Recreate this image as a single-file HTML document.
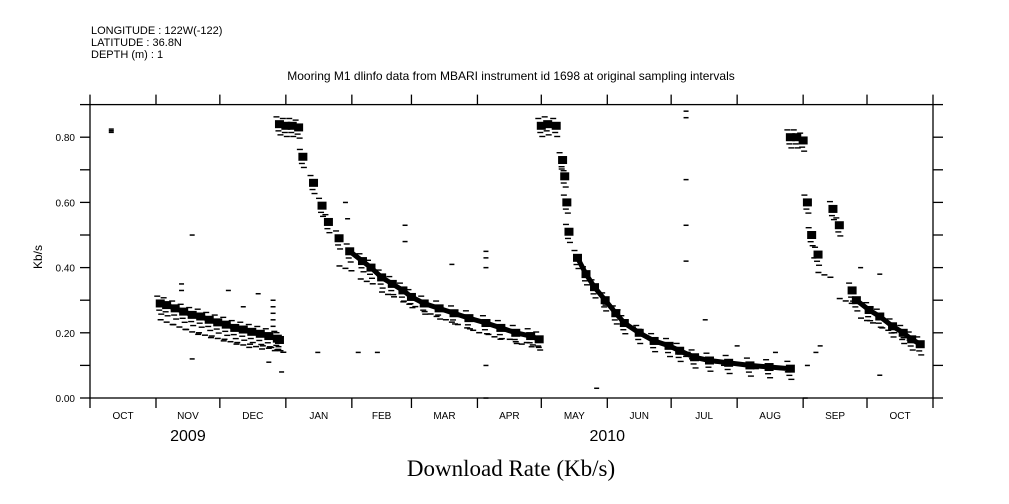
<!DOCTYPE html>
<html><head><meta charset="utf-8"><style>
body{margin:0;background:#fff;}
svg{display:block;font-family:"Liberation Sans",sans-serif;}
</style></head><body>
<svg id="chart" width="1009" height="504" viewBox="0 0 1009 504">
<g font-size="11" fill="#000">
<text x="91" y="34">LONGITUDE : 122W(-122)</text>
<text x="91" y="46">LATITUDE : 36.8N</text>
<text x="91" y="58">DEPTH (m) : 1</text>
</g>
<text x="511" y="80" font-size="12" text-anchor="middle">Mooring M1 dlinfo data from MBARI instrument id 1698 at original sampling intervals</text>
<text x="511" y="476" font-size="23" text-anchor="middle" font-family="Liberation Serif,serif">Download Rate (Kb/s)</text>
<text transform="translate(42,257) rotate(-90)" font-size="12" text-anchor="middle">Kb/s</text>
<g id="axes"></g>
<g id="marks"></g>
</svg>
<script>
const monthLabels=["OCT","NOV","DEC","JAN","FEB","MAR","APR","MAY","JUN","JUL","AUG","SEP","OCT"];
const monthStarts=[0,31,61,92,123,151,182,212,243,273,304,335,365,396];
const yTicks=[0,0.1,0.2,0.3,0.4,0.5,0.6,0.7,0.8,0.9];
const yearLabels=[["2009",46],["2010",243]];
const trendDays=[33,36,40,44,48,52,56,60,64,68,72,76,80,84,88,89, 89,92,95,98,100,105,109,112,117,122,128,132,137,142,147,151,157,164,171,178,186,193,200,207,211, 212,215,219,222,223,224,225,229,233,237,242,247,251,258,265,272,277,284,291,300,310,319,329, 329,332,335,337,339,342,349,352,358,360,366,371,377,382,386,390];
const trendVals=[.29,.285,.275,.265,.255,.25,.24,.232,.225,.215,.21,.203,.197,.19,.182,.178, .84,.835,.835,.83,.74,.66,.59,.54,.49,.45,.42,.40,.37,.35,.33,.31,.29,.275,.26,.245,.23,.215,.20,.19,.18, .835,.84,.835,.73,.68,.60,.51,.43,.38,.34,.30,.26,.23,.20,.175,.16,.145,.125,.115,.108,.10,.095,.09, .80,.80,.79,.60,.50,.44,.58,.53,.33,.30,.27,.25,.22,.20,.18,.165];
const bandRanges=[[0,16],[25,41],[48,64],[73,80]];
const lowDays=[36,42,48,54,60,66,72,78,84,88,120,130,140,150,160,170,180,190,200,208,245,255,265,280,295,310,325,345,355,365,375,385];
const lowVals=[.235,.22,.205,.195,.185,.175,.165,.16,.155,.15,.40,.36,.32,.29,.26,.235,.21,.19,.175,.165,.28,.22,.18,.13,.11,.10,.09,.38,.30,.24,.21,.18];
const outDays=[10,10,10,43,43,48,48,65,72,79,84,86,86,86,86,86,90,107,120,121,126,135,148,148,170,170,186,186,186,186,186,238,280,280,280,280,280,281,289,304,322,336,337,340,341,343,362,371,371];
const outVals=[.82,.815,.825,.35,.33,.5,.12,.33,.28,.32,.11,.30,.28,.26,.24,.22,.08,.14,.60,.55,.14,.14,.48,.53,.41,.26,.45,.43,.40,.10,.0,.03,.88,.86,.67,.53,.42,.14,.24,.16,.14,.0,.10,.43,.14,.16,.40,.38,.07];
const X0=90,X1=933,Y0=398,YT=104.6;
const xs=d=>X0+d*(X1-X0)/396;
const ys=v=>Y0-v*(Y0-YT)/0.9;
const NS="http://www.w3.org/2000/svg";
function mk(t,a,p){const e=document.createElementNS(NS,t);for(const k in a)e.setAttribute(k,a[k]);p.appendChild(e);return e;}
const ax=document.getElementById('axes'),mg=document.getElementById('marks');
const frame=mk('rect',{x:X0,y:YT,width:X1-X0,height:Y0-YT,fill:'none',stroke:'#000','stroke-width':1.3},ax);


monthStarts.forEach(d=>{const x=xs(d);
 const t=mk('line',{x1:x,x2:x,y1:Y0,y2:Y0+10,stroke:'#000','stroke-width':1.3},ax);
 
 
 const t2=mk('line',{x1:x,x2:x,y1:YT-10,y2:YT,stroke:'#000','stroke-width':1.3},ax);
 
 });
monthLabels.forEach((m,i)=>{const x=(xs(monthStarts[i])+xs(monthStarts[i+1]))/2;
 const t=mk('text',{x:x,y:419,'font-size':10,'text-anchor':'middle'},ax);t.textContent=m;
 
 });
yearLabels.forEach(([y,d])=>{const t=mk('text',{x:xs(d),y:441,'font-size':16,'text-anchor':'middle'},ax);t.textContent=y;
 
 });
yTicks.forEach((v,i)=>{const y=ys(v);
 const t=mk('line',{x1:X0-10,x2:X0,y1:y,y2:y,stroke:'#000','stroke-width':1.3},ax);
 
 
 const t2=mk('line',{x1:X1,x2:X1+10,y1:y,y2:y,stroke:'#000','stroke-width':1.3},ax);
 
 
 if(i%2===0&&v<0.85){const l=mk('text',{x:75,y:y+4,'font-size':10,'text-anchor':'end'},ax);l.textContent=v.toFixed(2);
 
 }});
bandRanges.forEach(([a,b])=>{
 const pts=[];for(let i=a;i<b;i++)pts.push(xs(trendDays[i]).toFixed(1)+','+ys(trendVals[i]).toFixed(1));
 const pl=mk('polyline',{points:pts.join(' '),fill:'none',stroke:'#000','stroke-width':5,'stroke-linejoin':'round'},mg);
 
 
});
trendDays.forEach((d,i)=>{const x=xs(d),y=ys(trendVals[i]);
 const r=mk('rect',{x:x-4.5,y:y-4,width:9,height:8,fill:'#000'},mg);
 
 
 [-8,6,10].forEach((o,j)=>{const dd=mk('rect',{x:x-4+j*2-2,y:y+o,width:6,height:1.4,fill:'#000'},mg);
  
  });});
lowDays.forEach((d,i)=>{const x=xs(d),y=ys(lowVals[i]);
 [-6,0,6].forEach(o=>{const r=mk('rect',{x:x+o-3,y:y+o*0.4,width:6,height:1.5,fill:'#000'},mg);
 
 });});
outDays.forEach((d,i)=>{const r=mk('rect',{x:xs(d)-2.5,y:ys(outVals[i])-0.7,width:5,height:1.5,fill:'#000'},mg);
 
 });
</script>
</body></html>
